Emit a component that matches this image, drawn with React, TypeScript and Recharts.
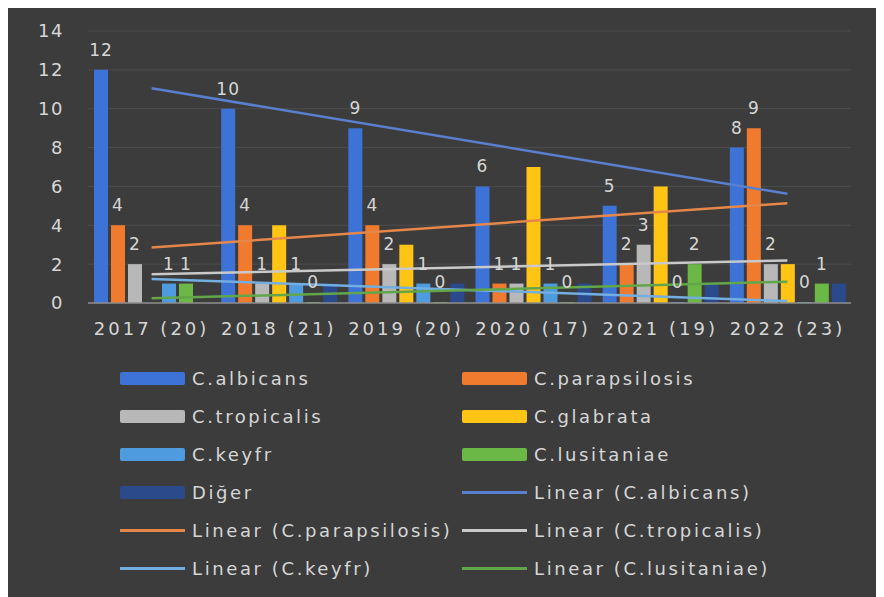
import React from 'react';
import { ComposedChart, Bar, Line, XAxis, YAxis, CartesianGrid, LabelList } from 'recharts';

const categories = ['2017 (20)', '2018 (21)', '2019 (20)', '2020 (17)', '2021 (19)', '2022 (23)'];

const albicans = [12, 10, 9, 6, 5, 8];
const parapsilosis = [4, 4, 4, 1, 2, 9];
const tropicalis = [2, 1, 2, 1, 3, 2];
const glabrata = [0, 4, 3, 7, 6, 2];
const keyfr = [1, 1, 1, 1, 0, 0];
const lusitaniae = [1, 0, 0, 0, 2, 1];
const diger = [0, 1, 1, 1, 1, 1];

// trendline ends (first / last category)
const albicansTrend = [11.05, 5.62];
const parapsilosisTrend = [2.86, 5.14];
const tropicalisTrend = [1.48, 2.19];
const keyfrTrend = [1.24, 0.1];
const lusitaniaeTrend = [0.24, 1.1];

const yTicks = [0, 2, 4, 6, 8, 10, 12, 14];

const ends = (pair: number[], i: number) =>
  i === 0 ? pair[0] : i === categories.length - 1 ? pair[1] : null;

const data = categories.map((name, i) => ({
  name,
  albicans: albicans[i],
  parapsilosis: parapsilosis[i],
  tropicalis: tropicalis[i],
  glabrata: glabrata[i],
  keyfr: keyfr[i],
  lusitaniae: lusitaniae[i],
  diger: diger[i],
  tAlbicans: ends(albicansTrend, i),
  tParapsilosis: ends(parapsilosisTrend, i),
  tTropicalis: ends(tropicalisTrend, i),
  tKeyfr: ends(keyfrTrend, i),
  tLusitaniae: ends(lusitaniaeTrend, i),
}));

const bars = [
  { key: 'albicans', name: 'C.albicans', color: '#3d72d6', label: true },
  { key: 'parapsilosis', name: 'C.parapsilosis', color: '#f07b2e', label: true },
  { key: 'tropicalis', name: 'C.tropicalis', color: '#b8b8b8', label: true },
  { key: 'glabrata', name: 'C.glabrata', color: '#ffc414', label: false },
  { key: 'keyfr', name: 'C.keyfr', color: '#4f9be0', label: true },
  { key: 'lusitaniae', name: 'C.lusitaniae', color: '#6cb846', label: true },
  { key: 'diger', name: 'Diğer', color: '#2a4a8c', label: false },
];

const trends = [
  { key: 'tAlbicans', name: 'Linear (C.albicans)', color: '#5b7fcf' },
  { key: 'tParapsilosis', name: 'Linear (C.parapsilosis)', color: '#e5874a' },
  { key: 'tTropicalis', name: 'Linear (C.tropicalis)', color: '#c9c9c9' },
  { key: 'tKeyfr', name: 'Linear (C.keyfr)', color: '#72aee0' },
  { key: 'tLusitaniae', name: 'Linear (C.lusitaniae)', color: '#62a64a' },
];

const FONT = '"DejaVu Sans", sans-serif';
const TEXT = '#d6d6d6';

// draws the value above the bar, zeros included
const ValueLabel = (props: any) => {
  const { x, y, width, height, value } = props;
  if (value === null || value === undefined) return null;
  const top = Math.min(Number(y), Number(y) + Number(height || 0));
  return (
    <text
      x={Number(x) + Number(width) / 2}
      y={top - 14}
      textAnchor="middle"
      fill={TEXT}
      fontSize={17}
      fontFamily={FONT}
      letterSpacing={1}
    >
      {value}
    </text>
  );
};

export default function App() {
  const legendItems = [
    ...bars.map((b) => ({ name: b.name, color: b.color, line: false })),
    ...trends.map((t) => ({ name: t.name, color: t.color, line: true })),
  ];

  return (
    <div style={{ position: 'relative', width: 876, height: 589, background: '#3c3c3c', fontFamily: FONT }}>
      <ComposedChart
        width={876}
        height={589}
        data={data}
        margin={{ top: 23, right: 33, left: 0, bottom: 0 }}
        barGap={3}
        barCategoryGap={4}
      >
        <CartesianGrid vertical={false} stroke="#4d4d4d" strokeWidth={1} />
        <XAxis
          dataKey="name"
          height={294}
          tickLine={false}
          axisLine={{ stroke: '#8c8c8c', strokeWidth: 1.5 }}
          tick={{ fill: TEXT, fontSize: 18, fontFamily: FONT, letterSpacing: 3 }}
          tickMargin={13}
          interval={0}
        />
        <YAxis
          width={80}
          domain={[0, 14]}
          ticks={yTicks}
          tickLine={false}
          axisLine={false}
          tick={{ fill: TEXT, fontSize: 18, fontFamily: FONT, letterSpacing: 1.5 }}
          tickMargin={18}
        />
        {bars.map((b) => (
          <Bar
            key={b.key}
            dataKey={b.key}
            name={b.name}
            fill={b.color}
            barSize={14}
            minPointSize={b.label ? 1 : 0}
            isAnimationActive={false}
          >
            {b.label && <LabelList dataKey={b.key} content={ValueLabel} />}
          </Bar>
        ))}
        {trends.map((t) => (
          <Line
            key={t.key}
            type="linear"
            dataKey={t.key}
            name={t.name}
            stroke={t.color}
            strokeWidth={2.5}
            dot={false}
            activeDot={false}
            connectNulls
            isAnimationActive={false}
          />
        ))}
      </ComposedChart>
      <div
        style={{
          position: 'absolute',
          left: 112,
          top: 351,
          display: 'grid',
          gridTemplateColumns: '342px 342px',
          gridAutoRows: '38px',
          color: TEXT,
          fontSize: 18,
          letterSpacing: 2.6,
        }}
      >
        {legendItems.map((it) => (
          <div key={it.name} style={{ display: 'flex', alignItems: 'center' }}>
            <div style={{ width: 65, height: 16, display: 'flex', alignItems: 'center', marginRight: 7 }}>
              <div
                style={{
                  width: 65,
                  height: it.line ? 3 : 13,
                  background: it.color,
                  borderRadius: it.line ? 0 : 2,
                }}
              />
            </div>
            <span style={{ whiteSpace: 'nowrap' }}>{it.name}</span>
          </div>
        ))}
      </div>
    </div>
  );
}
